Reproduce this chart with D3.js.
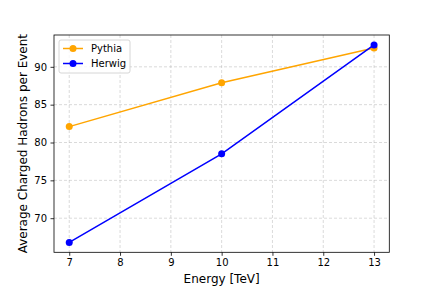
<!DOCTYPE html>
<html>
<head>
<meta charset="utf-8">
<script src="https://cdn.jsdelivr.net/npm/d3@7"></script>
<style>
  body { margin: 0; background: #fff; }
  text { font-family: "DejaVu Sans", sans-serif; fill: #000; }
</style>
</head>
<body>
<script>
// charged hadron multiplicity vs energy
let energies = [7, 10, 13];
let pythia = [82.1, 87.9, 92.5];
let herwig = [66.8, 78.5, 92.9];
let seriesNames = ["Pythia", "Herwig"];
let seriesColors = ["orange", "blue"];
let xTicks = [7, 8, 9, 10, 11, 12, 13];
let yTicks = [70, 75, 80, 85, 90];

let w = 432, h = 288;
let pLeft = 54, pRight = 389.3, pTop = 35, pBottom = 252.3;

let svg = d3.select('body').append('svg')
    .attr('width', w)
    .attr('height', h);

let all = pythia.concat(herwig);
let lo = d3.min(all), hi = d3.max(all), pad = (hi - lo) * 0.05;

let x = d3.scaleLinear().domain([6.7, 13.3]).range([pLeft, pRight]);
let y = d3.scaleLinear().domain([lo - pad, hi + pad]).range([pBottom, pTop]);

// grid
let grid = svg.append('g').attr('stroke', '#b0b0b0').attr('stroke-opacity', 0.6)
    .attr('stroke-width', 0.8).attr('stroke-dasharray', '3,2');
xTicks.forEach(t => grid.append('line')
    .attr('x1', x(t)).attr('x2', x(t)).attr('y1', pTop).attr('y2', pBottom));
yTicks.forEach(t => grid.append('line')
    .attr('x1', pLeft).attr('x2', pRight).attr('y1', y(t)).attr('y2', y(t)));

// axes
let xAxis = svg.append('g').attr('transform', `translate(0,${pBottom})`)
    .call(d3.axisBottom(x).tickValues(xTicks).tickFormat(d3.format('d'))
        .tickSize(3.5).tickPadding(3.5));
let yAxis = svg.append('g').attr('transform', `translate(${pLeft},0)`)
    .call(d3.axisLeft(y).tickValues(yTicks).tickFormat(d3.format('d'))
        .tickSize(3.5).tickPadding(3.5));
[xAxis, yAxis].forEach(a => {
    a.select('.domain').remove();
    a.selectAll('text').attr('font-size', 10).attr('font-family', 'DejaVu Sans');
    a.selectAll('line').attr('stroke', '#000').attr('stroke-width', 0.8);
});

svg.append('rect')
    .attr('x', pLeft).attr('y', pTop)
    .attr('width', pRight - pLeft).attr('height', pBottom - pTop)
    .attr('fill', 'none').attr('stroke', '#000').attr('stroke-width', 0.8);

// series
let line = d3.line().x((d, i) => x(energies[i])).y(d => y(d));
[pythia, herwig].forEach((s, k) => {
    svg.append('path').datum(s)
        .attr('d', line)
        .attr('fill', 'none')
        .attr('stroke', seriesColors[k])
        .attr('stroke-width', 1.5);
    svg.selectAll('.pt' + k).data(s).enter().append('circle')
        .attr('cx', (d, i) => x(energies[i]))
        .attr('cy', d => y(d))
        .attr('r', 3.5)
        .attr('fill', seriesColors[k]);
});

// labels
svg.append('text')
    .attr('x', (pLeft + pRight) / 2).attr('y', 283)
    .attr('text-anchor', 'middle').attr('font-size', 12)
    .text('Energy [TeV]');
svg.append('text')
    .attr('transform', `translate(27,${(pTop + pBottom) / 2}) rotate(-90)`)
    .attr('text-anchor', 'middle').attr('font-size', 12)
    .text('Average Charged Hadrons per Event');

// legend
let lg = svg.append('g').attr('transform', `translate(${pLeft + 5},${pTop + 5})`);
lg.append('rect')
    .attr('width', 71).attr('height', 33).attr('rx', 2)
    .attr('fill', '#fff').attr('fill-opacity', 0.8)
    .attr('stroke', '#ccc').attr('stroke-width', 0.8);
seriesNames.forEach((name, k) => {
    let yy = 8.5 + k * 15;
    lg.append('line').attr('x1', 4).attr('x2', 24).attr('y1', yy).attr('y2', yy)
        .attr('stroke', seriesColors[k]).attr('stroke-width', 1.5);
    lg.append('circle').attr('cx', 14).attr('cy', yy).attr('r', 3.5)
        .attr('fill', seriesColors[k]);
    lg.append('text').attr('x', 32).attr('y', yy + 3.5)
        .attr('font-size', 10).text(name);
});
</script>
</body>
</html>
